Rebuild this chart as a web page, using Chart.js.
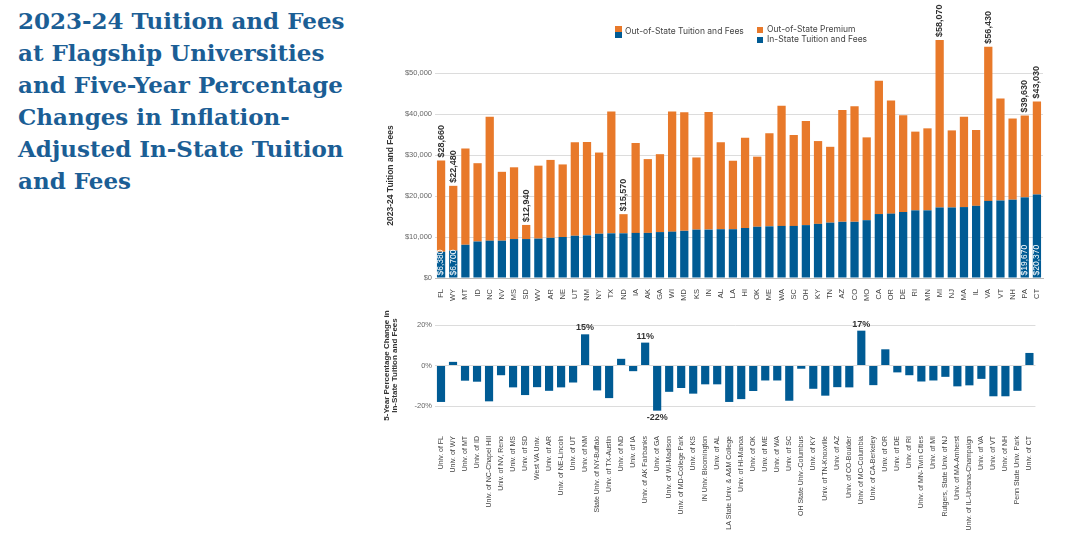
<!DOCTYPE html>
<html>
<head>
<meta charset="utf-8">
<script src="https://cdn.jsdelivr.net/npm/chart.js@4"></script>
<style>
  body { margin: 0; background: #fff; width: 1080px; height: 542px; position: relative; overflow: hidden; font-family: Inter, "Liberation Sans", sans-serif; }
  #title { position: absolute; left: 18px; top: 5px; color: #1b5e95; font-family: "DejaVu Serif", serif; font-weight: bold; font-size: 23px; line-height: 32px; white-space: nowrap; }
  #title span { display: block; }
  .chartBox { position: absolute; left: 380px; width: 680px; }
  #legend { position: absolute; font-size: 8.5px; color: #444; }
  .lg { position: absolute; white-space: nowrap; line-height: 10px; }
  .sw { display: inline-block; width: 6px; height: 6px; margin-right: 4px; vertical-align: -0.5px; }
</style>
</head>
<body>
<div id="title"><span>2023-24 Tuition and Fees</span><span>at Flagship Universities</span><span>and Five-Year Percentage</span><span>Changes in Inflation-</span><span>Adjusted In-State Tuition</span><span>and Fees</span></div>

<div class="chartBox" style="top:0; height:305px;"><canvas id="topChart"></canvas></div>
<div class="chartBox" style="top:310px; height:232px;"><canvas id="bottomChart"></canvas></div>

<div id="legend">
  <div class="lg" style="left:615px; top:26px;"><span style="display:inline-block; width:7px; height:12px; vertical-align:middle; margin-right:3px; background:linear-gradient(#e8792a 50%, #005b94 50%);"></span>Out-of-State Tuition and Fees</div>
  <div class="lg" style="left:757px; top:24px;"><span class="sw" style="background:#e8792a"></span>Out-of-State Premium</div>
  <div class="lg" style="left:757px; top:34px;"><span class="sw" style="background:#005b94"></span>In-State Tuition and Fees</div>
</div>

<script>
const states = ['FL','WY','MT','ID','NC','NV','MS','SD','WV','AR','NE','UT','NM','NY','TX','ND','IA','AK','GA','WI',
  'MD','KS','IN','AL','LA','HI','OK','ME','WA','SC','OH','KY','TN','AZ','CO','MO','CA','OR','DE','RI',
  'MN','MI','NJ','MA','IL','VA','VT','NH','PA','CT'];

const universities = ['Univ. of FL','Univ. of WY','Univ. of MT','Univ. of ID','Univ. of NC-Chapel Hill','Univ. of NV, Reno',
  'Univ. of MS','Univ. of SD','West VA Univ.','Univ. of AR','Univ. of NE-Lincoln','Univ. of UT','Univ. of NM',
  'State Univ. of NY-Buffalo','Univ. of TX-Austin','Univ. of ND','Univ. of IA','Univ. of AK Fairbanks','Univ. of GA',
  'Univ. of WI-Madison','Univ. of MD-College Park','Univ. of KS','IN Univ. Bloomington','Univ. of AL',
  'LA State Univ. & A&M College','Univ. of HI-Manoa','Univ. of OK','Univ. of ME','Univ. of WA','Univ. of SC',
  'OH State Univ.-Columbus','Univ. of KY','Univ. of TN-Knoxville','Univ. of AZ','Univ. of CO-Boulder',
  'Univ. of MO-Columbia','Univ. of CA-Berkeley','Univ. of OR','Univ. of DE','Univ. of RI','Univ. of MN-Twin Cities',
  'Univ. of MI','Rutgers, State Univ. of NJ','Univ. of MA-Amherst','Univ. of IL-Urbana-Champaign','Univ. of VA',
  'Univ. of VT','Univ. of NH','Penn State Univ. Park','Univ. of CT'];

const inState = [6380,6700,8100,8900,9100,9100,9500,9500,9600,9800,10000,10300,10400,10800,10900,10900,11000,11000,11200,11300,
  11500,11800,11800,11900,11900,12200,12500,12600,12700,12700,12900,13200,13500,13700,13700,14100,15600,15700,16100,16500,
  16500,17200,17200,17300,17600,18800,18900,19100,19670,20370];

const outOfState = [28660,22480,31600,28000,39300,25900,27000,12940,27400,28800,27700,33100,33200,30600,40600,15570,32900,29000,30200,40600,
  40400,29400,40500,33100,28600,34200,29600,35300,42000,34900,38300,33400,32000,41000,41900,34300,48100,43300,39700,35700,
  36500,58070,36000,39300,36100,56430,43800,38900,39630,43030];

const pctChange = [-18.0,1.8,-7.5,-8.0,-17.7,-4.8,-10.8,-14.6,-10.7,-12.5,-10.8,-8.4,15.4,-12.3,-16.1,3.3,-2.8,11.3,-22.3,-13.0,
  -11.1,-13.9,-9.3,-9.3,-18.0,-16.6,-12.6,-7.4,-7.4,-17.4,-1.6,-11.5,-14.9,-10.7,-10.8,17.2,-9.7,8.0,-3.4,-4.8,
  -7.9,-7.4,-5.6,-10.3,-9.8,-6.6,-15.2,-15.2,-12.5,6.2];

const totalLabelStates = ['FL','WY','SD','ND','MI','VA','PA','CT'];
const inStateLabelStates = ['FL','WY','PA','CT'];
const pctLabelStates = ['NM','AK','GA','MO'];

const premium = outOfState.map((v, i) => v - inState[i]);

const ORANGE = '#e8792a';
const BLUE = '#005b94';
const GRID = '#dcdcdc';
const FONT = '"Liberation Sans", Arial, sans-serif';

Chart.defaults.font.family = FONT;
Chart.defaults.color = '#555';

function money(v) {
  return '$' + v.toLocaleString('en-US');
}

const topLabels = {
  id: 'topLabels',
  afterDatasetsDraw(chart) {
    const ctx = chart.ctx;
    const inMeta = chart.getDatasetMeta(0);
    const premMeta = chart.getDatasetMeta(1);
    states.forEach((s, i) => {
      if (totalLabelStates.includes(s)) {
        const bar = premMeta.data[i];
        ctx.save();
        ctx.translate(bar.x, bar.y - 3);
        ctx.rotate(-Math.PI / 2);
        ctx.font = 'bold 9px ' + FONT;
        ctx.fillStyle = '#333';
        ctx.textAlign = 'left';
        ctx.textBaseline = 'middle';
        ctx.fillText(money(outOfState[i]), 0, 0);
        ctx.restore();
      }
      if (inStateLabelStates.includes(s)) {
        const bar = inMeta.data[i];
        ctx.save();
        ctx.translate(bar.x, bar.base - 2);
        ctx.rotate(-Math.PI / 2);
        ctx.font = '8.5px ' + FONT;
        ctx.fillStyle = '#fff';
        ctx.textAlign = 'left';
        ctx.textBaseline = 'middle';
        ctx.fillText(money(inState[i]), 0, 0);
        ctx.restore();
      }
    });
  }
};

const bottomLabels = {
  id: 'bottomLabels',
  afterDatasetsDraw(chart) {
    const ctx = chart.ctx;
    const meta = chart.getDatasetMeta(0);
    states.forEach((s, i) => {
      if (!pctLabelStates.includes(s)) return;
      const bar = meta.data[i];
      const v = pctChange[i];
      ctx.save();
      ctx.font = 'bold 9px ' + FONT;
      ctx.fillStyle = '#333';
      ctx.textAlign = 'center';
      ctx.textBaseline = v >= 0 ? 'bottom' : 'top';
      ctx.fillText(Math.round(v) + '%', bar.x, v >= 0 ? bar.y - 2 : bar.y + 2);
      ctx.restore();
    });
  }
};

new Chart(document.getElementById('topChart'), {
  type: 'bar',
  data: {
    labels: states,
    datasets: [
      { label: 'In-State Tuition and Fees', data: inState, backgroundColor: BLUE, clip: false,
        categoryPercentage: 1, barPercentage: 0.68 },
      { label: 'Out-of-State Premium', data: premium, backgroundColor: ORANGE, clip: false,
        categoryPercentage: 1, barPercentage: 0.68 }
    ]
  },
  options: {
    responsive: true,
    maintainAspectRatio: false,
    animation: false,
    layout: { padding: { top: 73, right: 17, left: 0, bottom: 0 } },
    plugins: { legend: { display: false }, tooltip: { enabled: false } },
    scales: {
      x: {
        stacked: true,
        grid: { display: false },
        border: { color: '#bbb' },
        ticks: { autoSkip: false, maxRotation: 90, minRotation: 90, padding: 3, color: '#444', font: { size: 7.5 } },
        afterFit: (s) => { s.height = 27; }
      },
      y: {
        stacked: true,
        min: 0,
        max: 50000,
        grid: { color: GRID, drawTicks: false },
        border: { display: false },
        ticks: { stepSize: 10000, padding: 3, color: '#666', font: { size: 7.5 }, callback: (v) => money(v) },
        title: { display: true, text: '2023-24 Tuition and Fees', color: '#333', font: { size: 8.5, weight: 'bold' }, padding: { top: 6, bottom: 0 } },
        afterFit: (s) => { s.width = 55; }
      }
    }
  },
  plugins: [topLabels]
});

new Chart(document.getElementById('bottomChart'), {
  type: 'bar',
  data: {
    labels: universities,
    datasets: [
      { label: '5-Year Percentage Change', data: pctChange, backgroundColor: BLUE, clip: false,
        categoryPercentage: 1, barPercentage: 0.68 }
    ]
  },
  options: {
    responsive: true,
    maintainAspectRatio: false,
    animation: false,
    layout: { padding: { top: 15, right: 17, left: 0, bottom: 0 } },
    plugins: { legend: { display: false }, tooltip: { enabled: false } },
    scales: {
      x: {
        grid: { display: false },
        border: { display: false },
        ticks: { autoSkip: false, maxRotation: 90, minRotation: 90, padding: 22, color: '#444', font: { size: 7 } },
        afterFit: (s) => { s.height = 136; }
      },
      y: {
        min: -20,
        max: 20,
        grid: { color: GRID, drawTicks: false },
        border: { display: false },
        ticks: { stepSize: 20, padding: 3, color: '#666', font: { size: 7.5 }, callback: (v) => v + '%' },
        title: { display: true, text: ['5-Year Percentage Change in', 'In-State Tuition and Fees'], color: '#333', font: { size: 8, weight: 'bold', lineHeight: 1.1 }, padding: { top: 2, bottom: 0 } },
        afterFit: (s) => { s.width = 55; }
      }
    }
  },
  plugins: [bottomLabels]
});
</script>
</body>
</html>
